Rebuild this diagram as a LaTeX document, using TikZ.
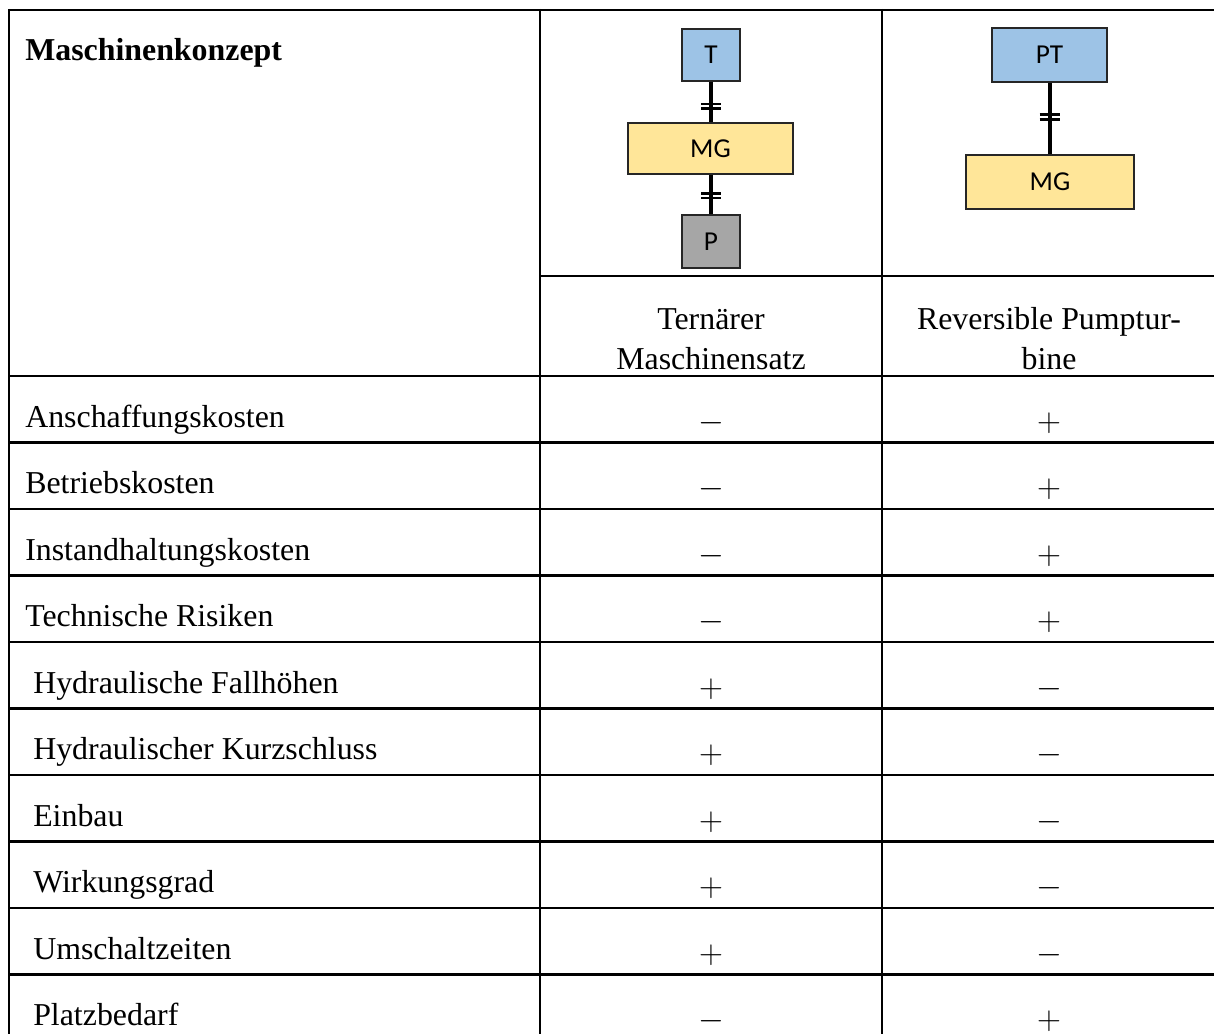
\documentclass[tikz,border=0pt]{standalone}
\usepackage{fontspec}
\setmainfont{Liberation Serif}
\newfontfamily\boxfont{Carlito}
\definecolor{turbblue}{HTML}{9DC3E6}
\definecolor{mgyellow}{HTML}{FFE699}
\definecolor{pumpgray}{HTML}{A6A6A6}
\begin{document}
\begin{tikzpicture}[x=0.75pt,y=-0.75pt,
  rule/.style={line width=2.2pt},
  machine/.style={draw=black!85,line width=1.1pt,inner sep=0pt,
    font=\boxfont\fontsize{20.5}{22}\selectfont},
  shaft/.style={line width=3pt},
  clutch/.style={line width=2.1pt},
  rowtext/.style={anchor=base west,inner sep=0pt,font=\fontsize{23.9}{28}\selectfont},
  rating/.style={inner sep=0pt,font=\fontsize{24}{28}\selectfont}]
\useasboundingbox (0,0) rectangle (1214,1034);
\clip (0,0) rectangle (1214,1034);
% table frame
\draw[rule] (9,10) -- (1220,10);
\draw[rule] (540,276) -- (1220,276);
\foreach \x in {9,540,882}
{
	\draw[rule] (\x,9) -- (\x,1045);
}
\foreach \i in {0,...,9}
{
	\draw[rule] (8,{376+66.5*\i}) -- (1220,{376+66.5*\i});
}
% header
\node[rowtext,font=\bfseries\fontsize{23.9}{28}\selectfont] (konzept) at (25,61) {Maschinenkonzept};
\node[align=center,anchor=base,inner sep=0pt,font=\fontsize{23.9}{30}\selectfont] (ternaer) at (711,369) {Ternärer\\Maschinensatz};
\node[align=center,anchor=base,inner sep=0pt,font=\fontsize{23.9}{30}\selectfont] (reversibel) at (1049,369) {Reversible Pumptur-\\bine};
% ternary set
\node[machine,fill=turbblue,minimum width=43.5pt,minimum height=39pt] (T) at (711,55) {T};
\node[machine,fill=mgyellow,minimum width=123.75pt,minimum height=38.25pt] (mgA) at (710.5,148.5) {MG};
\node[machine,fill=pumpgray,minimum width=43.5pt,minimum height=39.75pt] (P) at (711,241.5) {P};
\draw[shaft] (T.south) -- (T.south |- mgA.north) coordinate[pos=.55] (cA1) coordinate[pos=.66] (cA2);
\draw[shaft] (P.north |- mgA.south) -- (P.north) coordinate[pos=.47] (cB1) coordinate[pos=.59] (cB2);
% pump turbine
\node[machine,fill=turbblue,minimum width=86.25pt,minimum height=40.5pt] (PT) at (1049.5,55) {PT};
\node[machine,fill=mgyellow,minimum width=126pt,minimum height=40.5pt] (mgB) at (1050,182) {MG};
\draw[shaft] (PT.south) -- (PT.south |- mgB.north) coordinate[pos=.44] (cC1) coordinate[pos=.51] (cC2);
\foreach \c in {cA1,cA2,cB1,cB2,cC1,cC2}
{
	\draw[clutch] ([shift={(-10,0)}]\c) -- ([shift={(10,0)}]\c);
}
% ratings
\foreach \name/\a/\b/\ind [count=\i from 0] in
  {Anschaffungskosten/-/+/25, Betriebskosten/-/+/25, Instandhaltungskosten/-/+/25,
   Technische Risiken/-/+/25, Hydraulische Fallhöhen/+/-/33, Hydraulischer Kurzschluss/+/-/33,
   Einbau/+/-/33, Wirkungsgrad/+/-/33, Umschaltzeiten/+/-/33, Platzbedarf/-/+/33}
{
	\node[rowtext] (crit\i) at (\ind,{376+66.5*\i+51}) {\name};
	\node[rating] (tern\i) at (711,{376+66.5*\i+47}) {$\a$};
	\node[rating] (rev\i) at (1049,{376+66.5*\i+47}) {$\b$};
}
\end{tikzpicture}
\end{document}
